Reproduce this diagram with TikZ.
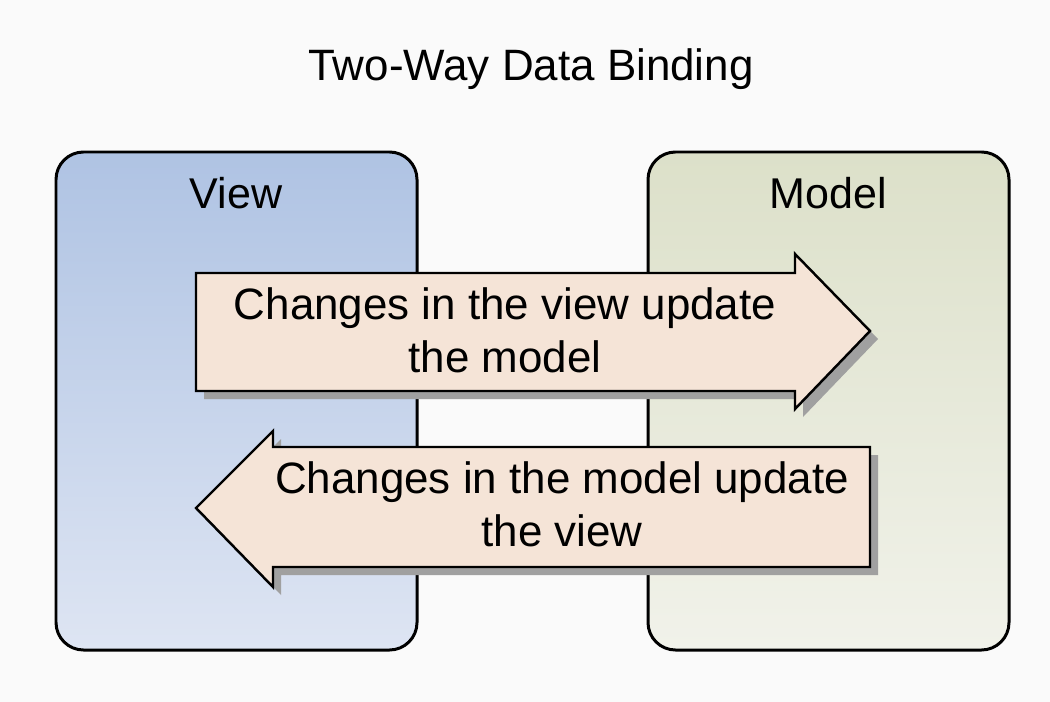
\documentclass[tikz,border=0pt]{standalone}
\usepackage{fontspec}
\setmainfont{Liberation Sans}
\usetikzlibrary{shadows}
\definecolor{bgwhite}{HTML}{FAFAFA}
\definecolor{viewtop}{HTML}{AFC3E3}
\definecolor{viewbot}{HTML}{DEE5F3}
\definecolor{modeltop}{HTML}{DCE0C9}
\definecolor{modelbot}{HTML}{F1F2EA}
\definecolor{arrowfill}{HTML}{F5E4D7}
\definecolor{shadowgray}{HTML}{A0A0A0}
\begin{document}
\begin{tikzpicture}[x=0.02cm, y=-0.02cm, line join=round, line cap=round,
    txt/.style={font=\fontsize{25}{30}\selectfont, align=center},
    lbl/.style={font=\fontsize{24.5}{30}\selectfont},
    box/.style={draw, line width=1.7pt, rounded corners=0.55cm},
    bigarrow/.style={draw, line width=1.4pt, fill=arrowfill, line join=miter,
      drop shadow={shadow xshift=0.16cm, shadow yshift=-0.16cm, fill=shadowgray, opacity=1}}]
    \def\xmin{0}\def\xmax{1050}\def\ymin{0}\def\ymax{702}
    \fill[bgwhite] (\xmin,\ymin) rectangle (\xmax,\ymax);
    \useasboundingbox (\xmin,\ymin) rectangle (\xmax,\ymax);
    % the two panels
    \draw[box, top color=viewtop, bottom color=viewbot] (56,152) rectangle (417,650);
    \draw[box, top color=modeltop, bottom color=modelbot] (648,152) rectangle (1009,650);
    \node[txt, anchor=base] (title) at (531,81) {Two-Way Data Binding};
    \node[lbl, anchor=base] (view) at (236,209) {View};
    \node[lbl, anchor=base] (model) at (828,209) {Model};
    % the two big arrows
    \draw[bigarrow] (196,273) -- (795,273) -- (795,254) -- (870,331) -- (795,409) -- (795,391) -- (196,391) -- cycle;
    \draw[bigarrow] (870,447) -- (273,447) -- (273,431) -- (196,508) -- (273,587) -- (273,567) -- (870,567) -- cycle;
    \node[txt] (v2m) at (505,330) {Changes in the view update\\the model};
    \node[txt] (m2v) at (562,504) {Changes in the model update\\the view};
\end{tikzpicture}
\end{document}
